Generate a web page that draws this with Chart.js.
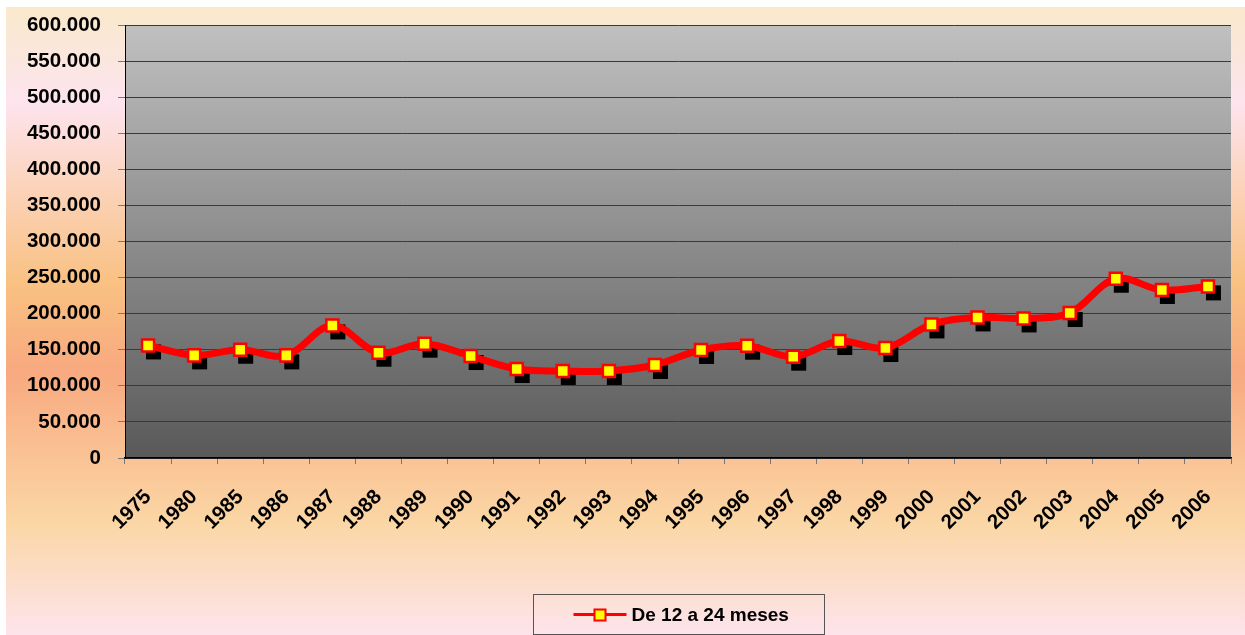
<!DOCTYPE html>
<html>
<head>
<meta charset="utf-8">
<script src="https://cdn.jsdelivr.net/npm/chart.js@4.4.1/dist/chart.umd.min.js"></script>
<style>
  html, body { margin: 0; padding: 0; background: #fff; }
  #wrap { width: 1245px; height: 635px; }
</style>
</head>
<body>
<div id="wrap"><canvas id="grafico" width="1245" height="635"></canvas></div>
<script>
// datos
const years = ['1975','1980','1985','1986','1987','1988','1989','1990','1991','1992','1993','1994',
  '1995','1996','1997','1998','1999','2000','2001','2002','2003','2004','2005','2006'];
const meses12a24 = [156000,142200,150000,142200,183700,145900,158400,141300,123300,120600,120600,128900,
  149700,155600,140400,162100,152400,185100,194800,193400,200900,248400,232800,237800];
const serieLabel = 'De 12 a 24 meses';
const yMax = 600000;
const yStep = 50000;

const FONT = 'Arial, "Liberation Sans", sans-serif';

function miles(v) {
  return String(v).replace(/\B(?=(\d{3})+(?!\d))/g, '.');
}

// fondo exterior y fondo del area de trazado
const fondos = {
  id: 'fondos',
  beforeDraw(chart) {
    const ctx = chart.ctx;
    const a = chart.chartArea;
    ctx.save();
    let g = ctx.createLinearGradient(0, 7, 0, 635);
    g.addColorStop(0, '#f9e9cb');
    g.addColorStop(0.15, '#fde4ee');
    g.addColorStop(0.44, '#f9c182');
    g.addColorStop(0.58, '#f8a97f');
    g.addColorStop(0.82, '#fbd6a5');
    g.addColorStop(1, '#fde4ec');
    ctx.fillStyle = g;
    ctx.fillRect(6, 7, 1239, 628);

    g = ctx.createLinearGradient(0, a.top, 0, a.bottom);
    g.addColorStop(0, '#c0c0c0');
    g.addColorStop(1, '#595959');
    ctx.fillStyle = g;
    ctx.fillRect(a.left, a.top, a.right - a.left, a.bottom - a.top);
    ctx.restore();
  },
  // sombra negra de los marcadores
  beforeDatasetsDraw(chart) {
    const ctx = chart.ctx;
    const pts = chart.getDatasetMeta(0).data;
    ctx.save();
    ctx.fillStyle = '#000';
    pts.forEach(p => {
      ctx.fillRect(p.x - 7 + 5, p.y - 7 + 6, 15, 15);
    });
    ctx.restore();
  },
  // leyenda con recuadro
  afterDraw(chart) {
    const ctx = chart.ctx;
    const a = chart.chartArea;
    const cx = (a.left + a.right) / 2;
    const w = 291, h = 40;
    const x0 = Math.round(cx - w / 2) + 0.5, y0 = 594.5;
    ctx.save();
    ctx.strokeStyle = '#555';
    ctx.lineWidth = 1;
    ctx.strokeRect(x0, y0, w, h);
    const ly = y0 + 20;
    ctx.strokeStyle = '#ff0000';
    ctx.lineWidth = 3;
    ctx.beginPath();
    ctx.moveTo(x0 + 40, ly);
    ctx.lineTo(x0 + 93, ly);
    ctx.stroke();
    ctx.fillStyle = '#ffff00';
    ctx.lineWidth = 2;
    ctx.fillRect(x0 + 61, ly - 5, 11, 11);
    ctx.strokeRect(x0 + 61, ly - 5, 11, 11);
    ctx.fillStyle = '#000';
    ctx.font = 'bold 19px ' + FONT;
    ctx.textBaseline = 'middle';
    ctx.fillText(serieLabel, x0 + 98, ly + 1);
    ctx.restore();
  }
};

const ctx = document.getElementById('grafico');
const grafico = new Chart(ctx, {
  type: 'line',
  data: {
    labels: years,
    datasets: [{
      label: serieLabel,
      data: meses12a24,
      borderColor: '#ff0000',
      borderWidth: 7,
      tension: 0.35,
      pointStyle: 'rect',
      pointRadius: 8.5,
      pointHoverRadius: 8.5,
      pointBackgroundColor: '#ffff00',
      pointBorderColor: '#ff0000',
      pointBorderWidth: 2.5
    }]
  },
  options: {
    responsive: false,
    animation: false,
    layout: { padding: { top: 25, right: 14, left: 0, bottom: 0 } },
    plugins: {
      legend: { display: false },
      tooltip: { enabled: false }
    },
    scales: {
      x: {
        offset: true,
        afterFit(s) { s.height = 177; s.paddingRight = 0; s.paddingLeft = 0; },
        border: { color: '#000', width: 1.5 },
        grid: { drawOnChartArea: false, drawTicks: true, tickLength: 6, tickColor: '#777', offset: true },
        ticks: {
          autoSkip: false,
          minRotation: 45,
          maxRotation: 45,
          padding: 21,
          color: '#000',
          font: { family: FONT, size: 20.5, weight: 'bold' }
        }
      },
      y: {
        min: 0,
        max: yMax,
        afterFit(s) { s.width = 125; s.paddingTop = 0; s.paddingBottom = 0; },
        border: { color: '#000', width: 1 },
        grid: { color: '#3a3a3a', lineWidth: 1, tickLength: 7, tickColor: '#777' },
        ticks: {
          stepSize: yStep,
          padding: 17,
          color: '#000',
          font: { family: FONT, size: 20.5, weight: 'bold' },
          callback: v => miles(v)
        }
      }
    }
  },
  plugins: [fondos]
});
</script>
</body>
</html>
